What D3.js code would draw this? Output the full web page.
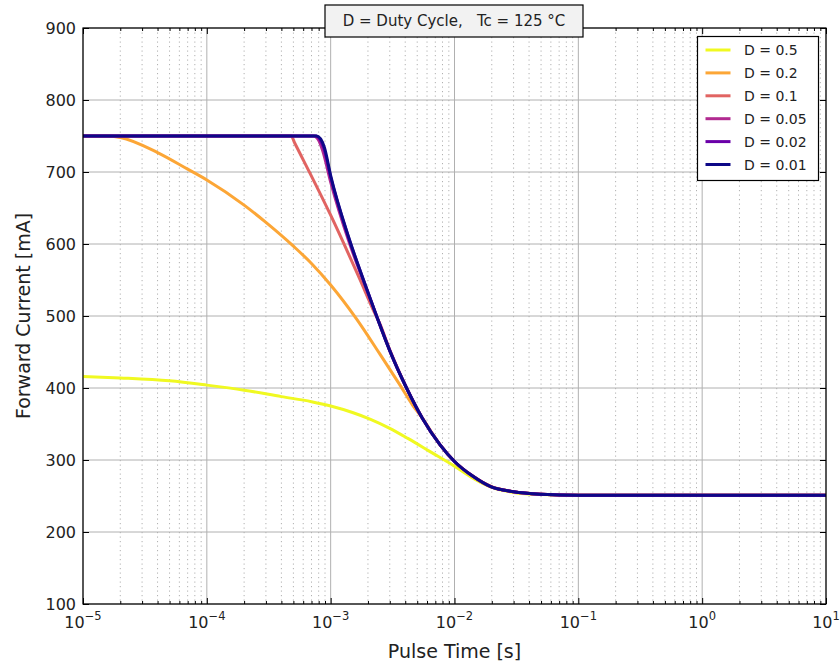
<!DOCTYPE html>
<html>
<head>
<meta charset="utf-8">
<script src="https://cdn.jsdelivr.net/npm/d3@7"></script>
<style>
  html, body { margin: 0; padding: 0; background: #fff; }
  svg { display: block; font-family: "DejaVu Sans", sans-serif; }
  text { fill: #222; }
</style>
</head>
<body>
<svg id="chart" width="840" height="666"></svg>
<script>
// Pulse-time axis ticks (decades) and current-axis ticks
const xTicks = [1e-5, 1e-4, 1e-3, 1e-2, 1e-1, 1, 10];
const xExponents = ["\u22125", "\u22124", "\u22123", "\u22122", "\u22121", "0", "1"];
const yTicks = [100, 200, 300, 400, 500, 600, 700, 800, 900];

// Duty cycles shown in the legend, drawn in this order
const dutyLabels = ["D = 0.5", "D = 0.2", "D = 0.1", "D = 0.05", "D = 0.02", "D = 0.01"];
const dutyColors = ["#f0f921", "#fca636", "#e16462", "#b12a90", "#6a00a8", "#0d0887"];

// Pulse times [s] and forward current [mA] for each duty cycle
const t05 = [1e-5, 2e-5, 5e-5, 1e-4, 2e-4, 4e-4, 7e-4, 1e-3, 1.5e-3, 2.1e-3, 3e-3, 4.2e-3, 6.3e-3, 1e-2, 1.42e-2, 2e-2, 3e-2, 5e-2, 1e-1, 1, 10];
const i05 = [416, 414, 410, 404, 397, 388, 381, 375, 366, 356.5, 344, 330, 312, 291.5, 274.5, 262, 255, 252, 251, 251, 251];

const t02 = [1e-5, 1.5e-5, 2e-5, 4e-5, 7e-5, 1e-4, 2e-4, 3e-4, 5e-4, 7e-4, 1e-3, 1.6e-3, 2.5e-3, 3.6e-3, 4.6e-3, 5.5e-3, 7.65e-3, 1e-2, 1.42e-2, 2e-2, 3e-2, 5e-2, 1e-1, 1, 10];
const i02 = [750, 750, 748, 727, 704, 689, 654, 630, 597, 573, 543, 497, 447, 405, 376, 358, 321, 298, 277, 263, 256, 252.5, 251, 251, 251];

const t01 = [1e-5, 4.8e-4, 5.1e-4, 1e-3, 1.73e-3, 2.2e-3, 2.5e-3, 3e-3, 4.1e-3, 5.5e-3, 7.65e-3, 1e-2, 1.42e-2, 1.96e-2, 3e-2, 5e-2, 1e-1, 1, 10];
const i01 = [750, 750, 741, 640, 550, 509, 489, 453, 400, 358, 321, 298, 277, 263, 256, 252.5, 251, 251, 251];

const t005 = [1e-5, 7.3e-4, 8e-4, 8.6e-4, 1e-3, 1.4e-3, 1.84e-3, 2.36e-3, 3e-3, 4.1e-3, 5.5e-3, 7.65e-3, 1e-2, 1.42e-2, 1.96e-2, 3e-2, 5e-2, 1e-1, 1, 10];
const i005 = [750, 750, 744, 730, 686, 604, 548, 499, 452, 400, 358, 321, 298, 277, 263, 256, 252.5, 251, 251, 251];

const t002 = [1e-5, 7.6e-4, 8.2e-4, 8.8e-4, 1e-3, 1.4e-3, 1.84e-3, 2.36e-3, 3e-3, 4.1e-3, 5.5e-3, 7.65e-3, 1e-2, 1.42e-2, 1.96e-2, 3e-2, 5e-2, 1e-1, 1, 10];
const i002 = [750, 750, 745, 733, 693, 608, 550, 499, 452, 400, 358, 321, 298, 277, 263, 256, 252.5, 251, 251, 251];

const t001 = [1e-5, 7.7e-4, 8.3e-4, 8.9e-4, 1e-3, 1.4e-3, 1.84e-3, 2.36e-3, 3e-3, 4.1e-3, 5.5e-3, 7.65e-3, 1e-2, 1.42e-2, 1.96e-2, 3e-2, 5e-2, 1e-1, 1, 10];
const i001 = [750, 750, 746, 734, 695, 609, 550, 499, 452, 400, 358, 321, 298, 277, 263, 256, 252.5, 251, 251, 251];

const seriesTimes = [t05, t02, t01, t005, t002, t001];
const seriesCurrents = [i05, i02, i01, i005, i002, i001];

const svg = d3.select("#chart");
const plotLeft = 83, plotRight = 826, plotTop = 28, plotBottom = 604;

const x = d3.scaleLog().domain([1e-5, 10]).range([plotLeft, plotRight]);
const y = d3.scaleLinear().domain([100, 900]).range([plotBottom, plotTop]);

// minor decade subdivisions
const minorTicks = [];
for (let e = -5; e < 1; e++) {
  for (let m = 2; m <= 9; m++) minorTicks.push(m * Math.pow(10, e));
}

const grid = svg.append("g");
grid.selectAll("line.minor").data(minorTicks).join("line")
  .attr("x1", d => x(d)).attr("x2", d => x(d))
  .attr("y1", plotTop).attr("y2", plotBottom)
  .attr("stroke", "#b0b0b0").attr("stroke-width", 1)
  .attr("stroke-dasharray", "1.2,3.3");
grid.selectAll("line.vmajor").data(xTicks).join("line")
  .attr("x1", d => x(d)).attr("x2", d => x(d))
  .attr("y1", plotTop).attr("y2", plotBottom)
  .attr("stroke", "#b0b0b0").attr("stroke-width", 1);
grid.selectAll("line.hmajor").data(yTicks).join("line")
  .attr("x1", plotLeft).attr("x2", plotRight)
  .attr("y1", d => y(d)).attr("y2", d => y(d))
  .attr("stroke", "#b0b0b0").attr("stroke-width", 1);

// curves
const line = d3.line()
  .x(d => x(d[0]))
  .y(d => y(d[1]))
  .curve(d3.curveMonotoneX);

const plot = svg.append("g");
seriesTimes.forEach((ts, k) => {
  const pts = ts.map((t, j) => [t, seriesCurrents[k][j]]);
  plot.append("path")
    .datum(pts)
    .attr("d", line)
    .attr("fill", "none")
    .attr("stroke", dutyColors[k])
    .attr("stroke-width", 3)
    .attr("stroke-linejoin", "round");
});

// axes with inward ticks
const axB = svg.append("g").attr("transform", `translate(0,${plotBottom})`)
  .call(d3.axisBottom(x).tickValues(xTicks).tickSizeInner(-6).tickSizeOuter(0).tickFormat(""));
const axT = svg.append("g").attr("transform", `translate(0,${plotTop})`)
  .call(d3.axisTop(x).tickValues(xTicks).tickSizeInner(-6).tickSizeOuter(0).tickFormat(""));
const axBm = svg.append("g").attr("transform", `translate(0,${plotBottom})`)
  .call(d3.axisBottom(x).tickValues(minorTicks).tickSizeInner(-3).tickSizeOuter(0).tickFormat(""));
const axTm = svg.append("g").attr("transform", `translate(0,${plotTop})`)
  .call(d3.axisTop(x).tickValues(minorTicks).tickSizeInner(-3).tickSizeOuter(0).tickFormat(""));
const axL = svg.append("g").attr("transform", `translate(${plotLeft},0)`)
  .call(d3.axisLeft(y).tickValues(yTicks).tickSizeInner(-6).tickSizeOuter(0).tickPadding(7).tickFormat(d3.format("d")));
const axR = svg.append("g").attr("transform", `translate(${plotRight},0)`)
  .call(d3.axisRight(y).tickValues(yTicks).tickSizeInner(-6).tickSizeOuter(0).tickFormat(""));

[axB, axT, axBm, axTm, axL, axR].forEach(g => {
  g.select(".domain").remove();
  g.selectAll(".tick line").attr("stroke", "#000").attr("stroke-width", 1);
});
axL.selectAll(".tick text").attr("font-size", 16).attr("fill", "#222")
  .attr("font-family", "DejaVu Sans, sans-serif");

// x tick labels as powers of ten
const xl = svg.append("g");
xTicks.forEach((t, k) => {
  const txt = xl.append("text")
    .attr("x", x(t)).attr("y", 628)
    .attr("text-anchor", "middle")
    .attr("font-size", 16);
  txt.append("tspan").text("10");
  txt.append("tspan").attr("dy", -8).attr("font-size", 11.5).text(xExponents[k]);
});

// frame
svg.append("rect")
  .attr("x", plotLeft).attr("y", plotTop)
  .attr("width", plotRight - plotLeft).attr("height", plotBottom - plotTop)
  .attr("fill", "none").attr("stroke", "#000").attr("stroke-width", 1.2);

// axis titles
svg.append("text")
  .attr("x", (plotLeft + plotRight) / 2).attr("y", 658)
  .attr("text-anchor", "middle").attr("font-size", 19)
  .text("Pulse Time [s]");
svg.append("text")
  .attr("transform", `translate(30,${(plotTop + plotBottom) / 2}) rotate(-90)`)
  .attr("text-anchor", "middle").attr("font-size", 19)
  .text("Forward Current [mA]");

// title box
const title = svg.append("g");
title.append("rect")
  .attr("x", 325).attr("y", 5).attr("width", 258).attr("height", 32)
  .attr("fill", "#f2f2f2").attr("stroke", "#000").attr("stroke-width", 1.2);
title.append("text")
  .attr("x", 454).attr("y", 26)
  .attr("text-anchor", "middle").attr("font-size", 15)
  .attr("xml:space", "preserve").style("white-space", "pre")
  .text("D = Duty Cycle,   Tc = 125 \u00b0C");

// legend
const legend = svg.append("g");
legend.append("rect")
  .attr("x", 697.5).attr("y", 36.5).attr("width", 121).attr("height", 144)
  .attr("fill", "#fff").attr("stroke", "#000").attr("stroke-width", 1.2);
dutyLabels.forEach((lab, k) => {
  const ly = 50 + k * 22.9;
  legend.append("line")
    .attr("x1", 705.5).attr("x2", 730.5).attr("y1", ly).attr("y2", ly)
    .attr("stroke", dutyColors[k]).attr("stroke-width", 3);
  legend.append("text")
    .attr("x", 744).attr("y", ly + 5)
    .attr("font-size", 14)
    .text(lab);
});
</script>
</body>
</html>
